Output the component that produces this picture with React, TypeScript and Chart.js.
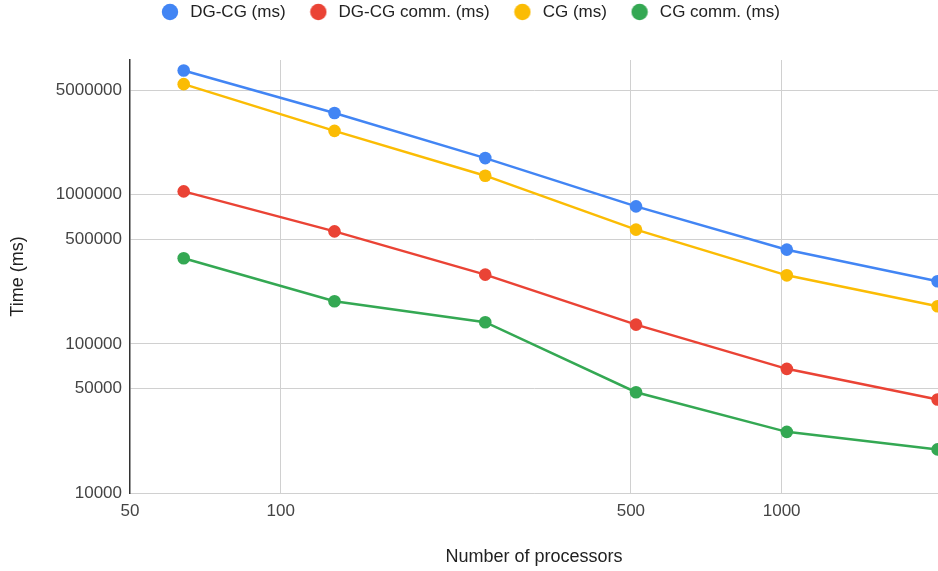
import React, { useEffect, useRef } from "react";
import { Chart, registerables } from "chart.js";

Chart.register(...registerables);

const processors = [64, 128, 256, 512, 1024, 2048];
const dgcgTime = [6800000, 3530000, 1760000, 835000, 428000, 263000];
const dgcgComm = [1052000, 568000, 291000, 134600, 68000, 42400];
const cgTime = [5510000, 2680000, 1341000, 583000, 288000, 178600];
const cgComm = [374500, 193000, 139600, 47400, 25700, 19600];

const seriesLabels = ["DG-CG (ms)", "DG-CG comm. (ms)", "CG (ms)", "CG comm. (ms)"];
const seriesColors = ["#4285F4", "#EA4335", "#FBBC04", "#34A853"];

const xTicks = [50, 100, 500, 1000];
const yTicks = [10000, 50000, 100000, 500000, 1000000, 5000000];

const FONT = '"Liberation Sans", Arial, sans-serif';

function makeDot(color: string) {
  const c = document.createElement("canvas");
  c.width = 18;
  c.height = 18;
  const g = c.getContext("2d")!;
  g.fillStyle = color;
  g.beginPath();
  g.arc(9, 9, 8.2, 0, Math.PI * 2);
  g.fill();
  return c;
}

export default function App() {
  const ref = useRef<HTMLCanvasElement | null>(null);

  useEffect(() => {
    document.body.style.margin = "0";
    const series = [dgcgTime, dgcgComm, cgTime, cgComm];
    const dots = seriesColors.map(makeDot);
    const chart = new Chart(ref.current!, {
      type: "line",
      data: {
        datasets: series.map((vals, i) => ({
          label: seriesLabels[i],
          data: processors.map((p, j) => ({ x: p, y: vals[j] })),
          borderColor: seriesColors[i],
          backgroundColor: seriesColors[i],
          pointBackgroundColor: seriesColors[i],
          pointBorderColor: seriesColors[i],
          pointRadius: 6.3,
          pointBorderWidth: 0,
          borderWidth: 2.5,
          tension: 0,
          clip: false as any,
        })),
      },
      options: {
        responsive: false,
        animation: false,
        devicePixelRatio: 1,
        layout: { autoPadding: false, padding: { top: -17.5, left: 0, right: 0, bottom: 0 } },
        plugins: {
          legend: {
            position: "top",
            weight: 1000,
            labels: {
              usePointStyle: true,
              pointStyleWidth: 23.5,
              boxHeight: 12,
              padding: 21,
              color: "#222",
              font: { family: FONT, size: 17 },
              generateLabels: (c: any) =>
                (Chart.defaults.plugins.legend.labels as any)
                  .generateLabels(c)
                  .map((l: any) => ({ ...l, pointStyle: dots[l.datasetIndex] })),
            },
          } as any,
          title: {
            display: true,
            text: "",
            weight: 500,
            padding: { top: 19.5, bottom: 0 },
            font: { size: 10, lineHeight: 1 },
          } as any,
          tooltip: { enabled: false },
        },
        scales: {
          x: {
            type: "logarithmic",
            min: 50,
            max: 2052,
            afterBuildTicks: (s: any) => {
              s.ticks = xTicks.map((v) => ({ value: v }));
            },
            afterFit: (s: any) => {
              s.height = 78;
            },
            grid: {
              color: (ctx: any) =>
                ctx.tick && ctx.tick.value === 50 ? "rgba(0,0,0,0)" : "#d0d0d0",
              drawTicks: false,
              lineWidth: 1,
            },
            border: { color: "#d0d0d0", width: 1 },
            ticks: {
              autoSkip: false,
              maxRotation: 0,
              padding: 8,
              color: "#444",
              font: { family: FONT, size: 17 },
              callback: (v: any) => String(v),
            },
            title: {
              display: true,
              text: "Number of processors",
              color: "#222",
              font: { family: FONT, size: 18 },
              padding: { top: 0, bottom: 3 },
            },
          },
          y: {
            type: "logarithmic",
            min: 10000,
            max: 8000000,
            afterBuildTicks: (s: any) => {
              s.ticks = yTicks.map((v) => ({ value: v }));
            },
            afterFit: (s: any) => {
              s.width = 130;
            },
            grid: { color: "#d0d0d0", drawTicks: false, lineWidth: 1 },
            border: { color: "#333", width: 1.5 },
            ticks: {
              autoSkip: false,
              padding: 8,
              color: "#444",
              font: { family: FONT, size: 17 },
              callback: (v: any) => String(v),
            },
            title: {
              display: true,
              text: "Time (ms)",
              color: "#222",
              font: { family: FONT, size: 18 },
              padding: { top: 7, bottom: 0 },
            },
          },
        },
      } as any,
    });
    return () => chart.destroy();
  }, []);

  return (
    <canvas
      ref={ref}
      width={938}
      height={571}
      style={{ display: "block", width: 938, height: 571 }}
    />
  );
}
